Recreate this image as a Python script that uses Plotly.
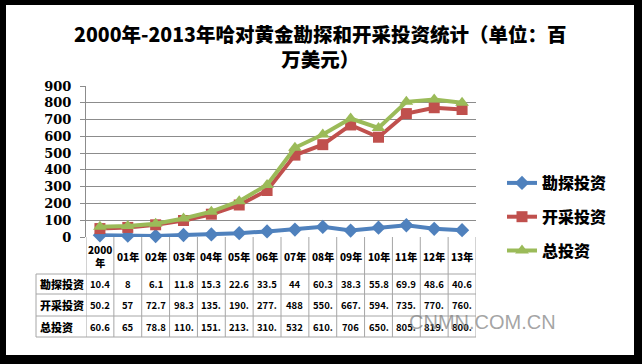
import plotly.graph_objects as go

# ---------------- data ----------------
years = ["2000<br>年", "01年", "02年", "03年", "04年", "05年", "06年",
         "07年", "08年", "09年", "10年", "11年", "12年", "13年"]
series_names = ["勘探投资", "开采投资", "总投资"]
explore = [10.4, 8, 6.1, 11.8, 15.3, 22.6, 33.5, 44, 60.3, 38.3, 55.8, 69.9, 48.6, 40.6]
mining = [50.2, 57, 72.7, 98.3, 135.9, 190.7, 277.0, 488, 550.4, 667.7, 594.6, 735.5, 770.4, 760.0]
total = [60.6, 65, 78.8, 110.1, 151.2, 213.3, 310.5, 532, 610.7, 706, 650.4, 805.4, 819.0, 800.6]
y_ticks = [0, 100, 200, 300, 400, 500, 600, 700, 800, 900]
title_text = "2000年-2013年哈对黄金勘探和开采投资统计（单位：百<br>万美元）"

W, H = 642, 364
def X(px): return px / W
def Y(py): return 1 - py / H

CJK = "Noto Sans CJK SC"
colors = ["#4F81BD", "#C0504D", "#9BBB59"]
symbols = ["diamond", "square", "triangle-up"]
msizes = [11, 11, 12]
data = [explore, mining, total]
idx = list(range(len(years)))

fig = go.Figure()
for name, vals, c, s, ms in zip(series_names, data, colors, symbols, msizes):
    fig.add_trace(go.Scatter(
        x=idx, y=vals, name=name, mode="lines+markers",
        line=dict(color=c, width=4),
        marker=dict(symbol=s, size=ms, color=c),
        cliponaxis=False, legendgroup=name,
    ))

def cell(v):
    s = str(v)
    return s[:4] if len(s) > 4 else s

shapes = []
shapes.append(dict(type="rect", xref="paper", yref="paper", x0=X(6), x1=X(634),
                   y0=Y(355), y1=Y(5), fillcolor="white", line=dict(width=0), layer="below"))
grid_c = "#A6A6A6"
for py in [274, 294, 316, 337]:
    shapes.append(dict(type="line", xref="paper", yref="paper", x0=X(36), x1=X(476),
                       y0=Y(py), y1=Y(py), line=dict(color=grid_c, width=1)))
shapes.append(dict(type="line", xref="paper", yref="paper", x0=X(36), x1=X(36),
                   y0=Y(274), y1=Y(337), line=dict(color=grid_c, width=1)))
for k in range(len(years) + 1):
    shapes.append(dict(type="line", xref="x", yref="paper", x0=k - 0.5, x1=k - 0.5,
                       y0=Y(237), y1=Y(337), line=dict(color=grid_c, width=1)))

annotations = []
annotations.append(dict(text=title_text, x=X(320), y=Y(46), xref="paper", yref="paper",
                        showarrow=False, font=dict(family=CJK, size=19.5, color="black", weight=900),
                        xanchor="center", yanchor="middle", align="center"))
for k, yl in enumerate(years):
    annotations.append(dict(text=yl, x=k, y=Y(256), xref="x", yref="paper",
                            showarrow=False, font=dict(family=CJK, size=10, color="black", weight=900),
                            xanchor="center", yanchor="middle", align="center"))
row_y = [284, 305, 326.5]
for name, vals, ry in zip(series_names, data, row_y):
    annotations.append(dict(text=name, x=X(38), y=Y(ry), xref="paper", yref="paper",
                            showarrow=False, font=dict(family=CJK, size=11, color="black", weight=900),
                            xanchor="left", yanchor="middle"))
    for k, v in enumerate(vals):
        annotations.append(dict(text=cell(v), x=k, y=Y(ry), xref="x", yref="paper",
                                showarrow=False, font=dict(family=CJK, size=9.5, color="black", weight="bold"),
                                xanchor="center", yanchor="middle"))
annotations.append(dict(text="CNMN.COM.CN", x=X(482), y=Y(322), xref="paper", yref="paper",
                        showarrow=False, font=dict(family="Liberation Sans", size=20,
                                                   color="rgba(125,125,125,0.7)"),
                        xanchor="center", yanchor="middle"))

fig.update_layout(
    width=W, height=H, margin=dict(l=0, r=0, t=0, b=0, autoexpand=False),
    paper_bgcolor="black", plot_bgcolor="white",
    showlegend=True,
    legend=dict(x=X(502), y=Y(166), xanchor="left", yanchor="top",
                font=dict(family=CJK, size=16, color="black", weight=900),
                bgcolor="rgba(0,0,0,0)", tracegroupgap=10, itemwidth=30),
    xaxis=dict(domain=[X(86), X(476)], range=[-0.5, len(years) - 0.5], automargin=False,
               showticklabels=False, showgrid=False, zeroline=False, showline=False, ticks=""),
    yaxis=dict(domain=[Y(237), Y(86)], range=[0, 900], tickvals=y_ticks, automargin=False,
               tickfont=dict(family="DejaVu Serif", size=13, color="black", weight="bold"),
               showgrid=True, gridcolor="#8C8C8C", gridwidth=1, zeroline=False,
               showline=True, linecolor="#8C8C8C", ticks="outside", ticklen=5,
               tickcolor="#8C8C8C", ticklabelstandoff=6),
    shapes=shapes, annotations=annotations,
)
fig.write_html("out.html", config={"displayModeBar": False},
               post_script="document.body.style.margin='0px';document.body.style.background='black';")
